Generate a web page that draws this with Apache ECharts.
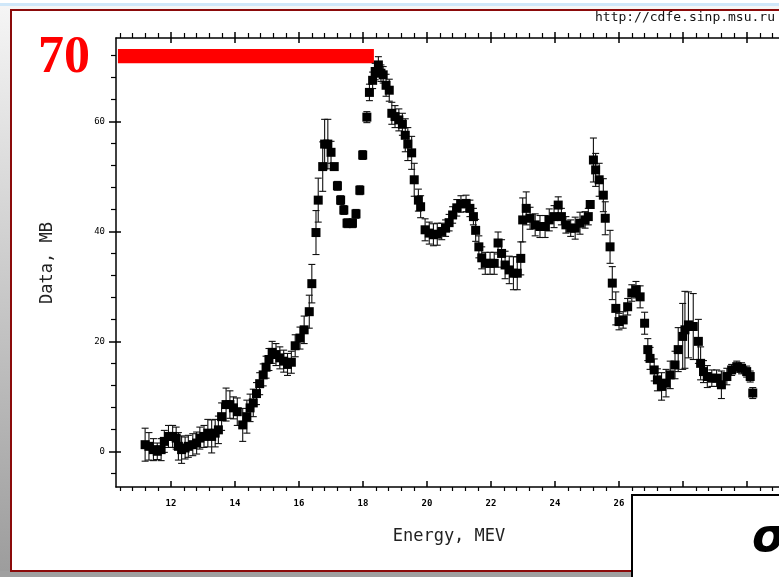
<!DOCTYPE html>
<html>
<head>
<meta charset="utf-8">
<script src="https://cdn.jsdelivr.net/npm/echarts@6/dist/echarts.min.js"></script>
<style>
  html, body { margin: 0; padding: 0; background: #ffffff; }
  #chart { width: 779px; height: 577px; }
</style>
</head>
<body>
<div id="chart"></div>
<script>
// Photo-neutron cross section: energy (MeV), value (mb), error (mb)
const energy = [
  11.19, 11.31, 11.45, 11.57, 11.69, 11.79, 11.92, 12.05, 12.16, 12.23,
  12.33, 12.44, 12.54, 12.68, 12.80, 12.90, 13.03, 13.15, 13.27, 13.38,
  13.48, 13.58, 13.72, 13.84, 13.95, 14.07, 14.24, 14.37, 14.47, 14.57,
  14.67, 14.77, 14.88, 14.97, 15.06, 15.16, 15.28, 15.40, 15.52, 15.64,
  15.76, 15.88, 16.03, 16.16, 16.32, 16.40, 16.53, 16.60, 16.74, 16.80,
  16.90, 17.00, 17.10, 17.20, 17.30, 17.40, 17.50, 17.67, 17.78, 17.90,
  17.99, 18.12, 18.20, 18.30, 18.38, 18.48, 18.56, 18.63, 18.72, 18.82,
  18.90, 19.00, 19.12, 19.23, 19.32, 19.40, 19.52, 19.60, 19.73, 19.80,
  19.94, 20.07, 20.20, 20.32, 20.46, 20.58, 20.69, 20.80, 20.93, 21.06,
  21.22, 21.34, 21.45, 21.52, 21.62, 21.71, 21.82, 21.97, 22.10, 22.22,
  22.33, 22.44, 22.57, 22.70, 22.82, 22.93, 22.99, 23.10, 23.22, 23.38,
  23.53, 23.69, 23.82, 23.97, 24.10, 24.20, 24.34, 24.49, 24.63, 24.78,
  24.94, 25.04, 25.10, 25.20, 25.27, 25.38, 25.51, 25.57, 25.72, 25.79,
  25.90, 26.00, 26.13, 26.27, 26.40, 26.53, 26.66, 26.80, 26.90, 26.97,
  27.10, 27.20, 27.33, 27.47, 27.60, 27.75, 27.85, 27.99, 28.06, 28.17,
  28.32, 28.48, 28.55, 28.64, 28.76, 28.90, 29.05, 29.20, 29.37, 29.52,
  29.68, 29.83, 29.99, 30.10, 30.18
];
const sigma = [
  1.2, 0.9, 0.3, 0.0, 0.3, 1.8, 2.7, 2.7, 2.4, 0.9,
  0.3, 0.6, 0.9, 1.2, 1.5, 2.4, 2.7, 3.3, 2.7, 3.3,
  3.9, 6.3, 8.5, 8.5, 7.9, 7.2, 4.8, 6.3, 7.9, 8.8,
  10.5, 12.3, 13.9, 15.3, 16.7, 18.0, 17.6, 17.0, 16.4, 15.8,
  16.2, 19.2, 20.6, 22.1, 25.4, 30.5, 39.8, 45.7, 51.8, 55.9,
  55.9, 54.4, 51.8, 48.3, 45.7, 43.9, 41.5, 41.5, 43.2, 47.5,
  53.9, 60.8, 65.3, 67.5, 69.1, 70.3, 68.8, 68.5, 66.6, 65.7,
  61.5, 60.9, 60.3, 59.5, 57.5, 55.9, 54.3, 49.4, 45.7, 44.5,
  40.3, 39.7, 39.4, 39.5, 40.0, 40.6, 41.6, 43.0, 44.3, 45.0,
  45.1, 44.2, 42.7, 40.2, 37.2, 35.2, 34.2, 34.2, 34.2, 37.9,
  36.0, 33.9, 33.0, 32.4, 32.4, 35.1, 42.1, 44.2, 42.4, 41.2,
  40.9, 40.9, 42.1, 42.7, 44.8, 42.7, 41.2, 40.6, 40.6, 41.5,
  42.1, 42.7, 44.9, 53.0, 51.2, 49.4, 46.6, 42.4, 37.2, 30.6,
  26.0, 23.6, 23.9, 26.3, 28.8, 29.4, 28.1, 23.3, 18.5, 16.9,
  14.8, 13.0, 11.8, 12.4, 13.9, 15.7, 18.5, 20.9, 22.1, 23.0,
  22.7, 20.0, 16.0, 14.5, 13.6, 13.3, 13.3, 12.1, 13.6, 14.8,
  15.4, 15.1, 14.5, 13.6, 10.6
];
const sigmaErr = [
  3.0, 2.5, 2.0, 1.5, 2.0, 2.0, 2.0, 2.0, 2.0, 2.5,
  2.5, 2.0, 2.0, 2.0, 2.0, 2.0, 2.0, 2.5, 3.0, 2.5,
  2.5, 2.5, 3.0, 2.5, 2.0, 2.5, 3.0, 3.0, 2.5, 2.5,
  2.0, 2.0, 2.0, 2.0, 2.0, 2.0, 2.0, 2.0, 2.0, 2.0,
  2.0, 2.0, 2.0, 2.5, 3.0, 3.5, 4.0, 4.0, 4.5, 4.5,
  4.5, 2.0, 0.5, 0.8, 0.8, 0.8, 0.8, 0.8, 0.8, 0.8,
  0.8, 1.0, 1.5, 1.5, 1.5, 1.5, 1.5, 1.5, 2.0, 2.0,
  2.0, 2.0, 2.0, 2.0, 3.0, 3.0, 3.0, 3.0, 2.0, 2.0,
  2.0, 2.0, 2.0, 2.0, 1.5, 1.5, 1.5, 1.5, 1.5, 1.5,
  1.5, 1.5, 1.5, 2.0, 2.0, 2.0, 2.0, 2.0, 2.0, 2.0,
  2.5, 2.5, 2.5, 3.0, 3.0, 3.0, 4.0, 3.0, 2.0, 2.0,
  2.0, 2.0, 2.0, 2.0, 1.5, 1.5, 1.5, 1.5, 2.0, 2.0,
  1.5, 1.5, 0.5, 4.0, 3.0, 3.0, 3.0, 3.0, 3.0, 3.0,
  3.0, 1.5, 1.5, 1.5, 1.5, 1.5, 2.0, 2.0, 2.0, 2.0,
  2.0, 2.0, 2.5, 2.5, 2.5, 2.5, 4.0, 6.0, 7.0, 6.0,
  6.0, 4.0, 3.0, 2.0, 2.0, 1.5, 1.5, 2.5, 1.5, 1.0,
  1.0, 1.0, 1.0, 1.0, 1.0
];

// Axis ranges and tick positions
const X_MIN = 10.28, X_MAX = 32.25;
const Y_MIN = -6.5, Y_MAX = 75.2;
const xMajorTicks = [12, 14, 16, 18, 20, 22, 24, 26, 28, 30, 32];
const xMinorTicks = [];
for (let i = 26; i <= 80; i++) {
  const v = +(i * 0.4).toFixed(2);
  if (v > X_MIN && v < X_MAX && Math.abs(v / 2 - Math.round(v / 2)) > 1e-6) xMinorTicks.push(v);
}
const yMajorTicks = [0, 20, 40, 60];
const yMinorTicks = [-4, 4, 8, 12, 16, 24, 28, 32, 36, 44, 48, 52, 56, 64, 68, 72];

// Highlight bar marking the peak level
const peakBarEnergy = [10.34, 18.34];
const peakBarLevel = [70.6, 73.2];
const peakLabel = '70';

const points = energy.map((e, i) => [e, sigma[i], sigmaErr[i]]);

const chart = echarts.init(document.getElementById('chart'), null, { renderer: 'canvas' });

const tickFont = { fontFamily: 'DejaVu Sans Mono', fontSize: 9, color: '#000' };

function xAxisCfg(pos, opts) {
  return Object.assign({
    type: 'value', position: pos, min: X_MIN, max: X_MAX, gridIndex: 0,
    axisLine: { show: false, onZero: false },
    splitLine: { show: false },
    axisLabel: { show: false },
    axisTick: { show: false }
  }, opts);
}
function yAxisCfg(opts) {
  return Object.assign({
    type: 'value', position: 'left', min: Y_MIN, max: Y_MAX, gridIndex: 0,
    axisLine: { show: false, onZero: false },
    splitLine: { show: false },
    axisLabel: { show: false },
    axisTick: { show: false }
  }, opts);
}

const option = {
  animation: false,
  backgroundColor: '#ffffff',
  grid: { left: 116, top: 38, width: 703, height: 449, containLabel: false, outerBoundsMode: 'none' },
  xAxis: [
    xAxisCfg('bottom', {
      axisLine: { show: true, onZero: false, lineStyle: { color: '#000', width: 1.5 } },
      axisTick: { show: true, inside: true, length: 6, customValues: xMajorTicks, lineStyle: { color: '#000', width: 1.5 } },
      axisLabel: { show: true, customValues: xMajorTicks, margin: 12, fontWeight: 'bold', ...tickFont,
        formatter: v => String(v) }
    }),
    xAxisCfg('bottom', {
      axisTick: { show: true, inside: false, length: 4, customValues: xMinorTicks, lineStyle: { color: '#000', width: 1.2 } }
    }),
    xAxisCfg('top', {
      axisLine: { show: true, onZero: false, lineStyle: { color: '#000', width: 1.5 } },
      axisTick: { show: true, inside: false, length: 6, customValues: xMajorTicks, lineStyle: { color: '#000', width: 1.5 } }
    }),
    xAxisCfg('top', {
      axisTick: { show: true, inside: true, length: 5, customValues: xMajorTicks, lineStyle: { color: '#000', width: 1.5 } }
    }),
    xAxisCfg('top', {
      axisTick: { show: true, inside: false, length: 5, customValues: xMinorTicks, lineStyle: { color: '#000', width: 1.2 } }
    })
  ],
  yAxis: [
    yAxisCfg({
      axisLine: { show: true, onZero: false, lineStyle: { color: '#000', width: 1.5 } },
      axisTick: { show: true, inside: false, length: 7, customValues: yMajorTicks, lineStyle: { color: '#000', width: 1.5 } },
      axisLabel: { show: true, customValues: yMajorTicks, margin: 11, ...tickFont, formatter: v => String(v) }
    }),
    yAxisCfg({
      axisTick: { show: true, inside: true, length: 5, customValues: yMajorTicks, lineStyle: { color: '#000', width: 1.5 } }
    }),
    yAxisCfg({
      axisTick: { show: true, inside: false, length: 5, customValues: yMinorTicks, lineStyle: { color: '#000', width: 1.2 } }
    })
  ],
  graphic: [
    // page background strips
    { type: 'rect', z: -20, shape: { x: 0, y: 0, width: 779, height: 577 },
      style: { fill: new echarts.graphic.LinearGradient(0, 0, 0, 1, [
        { offset: 0, color: '#f6f6f6' }, { offset: 1, color: '#9c9c9c' }]) } },
    { type: 'rect', z: -19, shape: { x: 0, y: 0, width: 779, height: 3 }, style: { fill: '#ffffff' } },
    { type: 'rect', z: -19, shape: { x: 0, y: 3, width: 779, height: 3 }, style: { fill: '#cfe7f9' } },
    { type: 'rect', z: -19, shape: { x: 0, y: 571, width: 779, height: 6 }, style: { fill: '#a0a0a0' } },
    // framed white panel
    { type: 'rect', z: -18, shape: { x: 11, y: 10, width: 800, height: 561 },
      style: { fill: '#ffffff', stroke: '#8b0a0a', lineWidth: 2 } },
    // header texts
    { type: 'text', z: 50, left: 38, top: 33,
      style: { text: peakLabel, font: 'bold 52px "Liberation Serif"', fill: '#ff0000' } },
    { type: 'text', z: 50, right: 4, top: 11,
      style: { text: 'http://cdfe.sinp.msu.ru', font: '13px "DejaVu Sans Mono"', fill: '#111' } },
    // axis titles
    { type: 'text', z: 50, x: 48, y: 263, rotation: Math.PI / 2,
      style: { text: 'Data, MB', font: '17px "DejaVu Sans Mono"', fill: '#222', align: 'center', verticalAlign: 'middle' } },
    { type: 'text', z: 50, x: 449, y: 537,
      style: { text: 'Energy, MEV', font: '17px "DejaVu Sans Mono"', fill: '#222', align: 'center', verticalAlign: 'middle' } },
    // lower-right panel with the sigma symbol
    { type: 'rect', z: 100, shape: { x: 632, y: 495, width: 200, height: 120 },
      style: { fill: '#ffffff', stroke: '#000', lineWidth: 2 } },
    { type: 'text', z: 101, x: 752, y: 562,
      style: { text: 'σ', font: 'italic bold 46px "DejaVu Sans"', fill: '#000', verticalAlign: 'bottom' } }
  ],
  series: [
    {
      type: 'custom',
      name: 'peak level',
      xAxisIndex: 0, yAxisIndex: 0,
      data: [[peakBarEnergy[0], peakBarEnergy[1], peakBarLevel[0], peakBarLevel[1]]],
      encode: { x: [0, 1], y: [2, 3] },
      renderItem(params, api) {
        const a = api.coord([api.value(0), api.value(3)]);
        const b = api.coord([api.value(1), api.value(2)]);
        return { type: 'rect', shape: { x: a[0], y: a[1], width: b[0] - a[0], height: b[1] - a[1] },
          style: { fill: '#ff0000' } };
      },
      z: 3
    },
    {
      type: 'custom',
      name: 'errors',
      xAxisIndex: 0, yAxisIndex: 0,
      data: points,
      encode: { x: 0, y: 1 },
      renderItem(params, api) {
        const x = api.value(0), y = api.value(1), e = api.value(2);
        const t = api.coord([x, y + e]);
        const b = api.coord([x, y - e]);
        const hw = 3.5;
        const st = { stroke: '#111', lineWidth: 1.1 };
        return { type: 'group', children: [
          { type: 'line', shape: { x1: t[0], y1: t[1], x2: b[0], y2: b[1] }, style: st },
          { type: 'line', shape: { x1: t[0] - hw, y1: t[1], x2: t[0] + hw, y2: t[1] }, style: st },
          { type: 'line', shape: { x1: b[0] - hw, y1: b[1], x2: b[0] + hw, y2: b[1] }, style: st }
        ] };
      },
      z: 4
    },
    {
      type: 'scatter',
      name: 'data',
      xAxisIndex: 0, yAxisIndex: 0,
      data: points.map(p => [p[0], p[1]]),
      symbol: 'rect',
      symbolSize: 9,
      itemStyle: { color: '#000', opacity: 1 },
      z: 5
    }
  ]
};

chart.setOption(option);
</script>
</body>
</html>
